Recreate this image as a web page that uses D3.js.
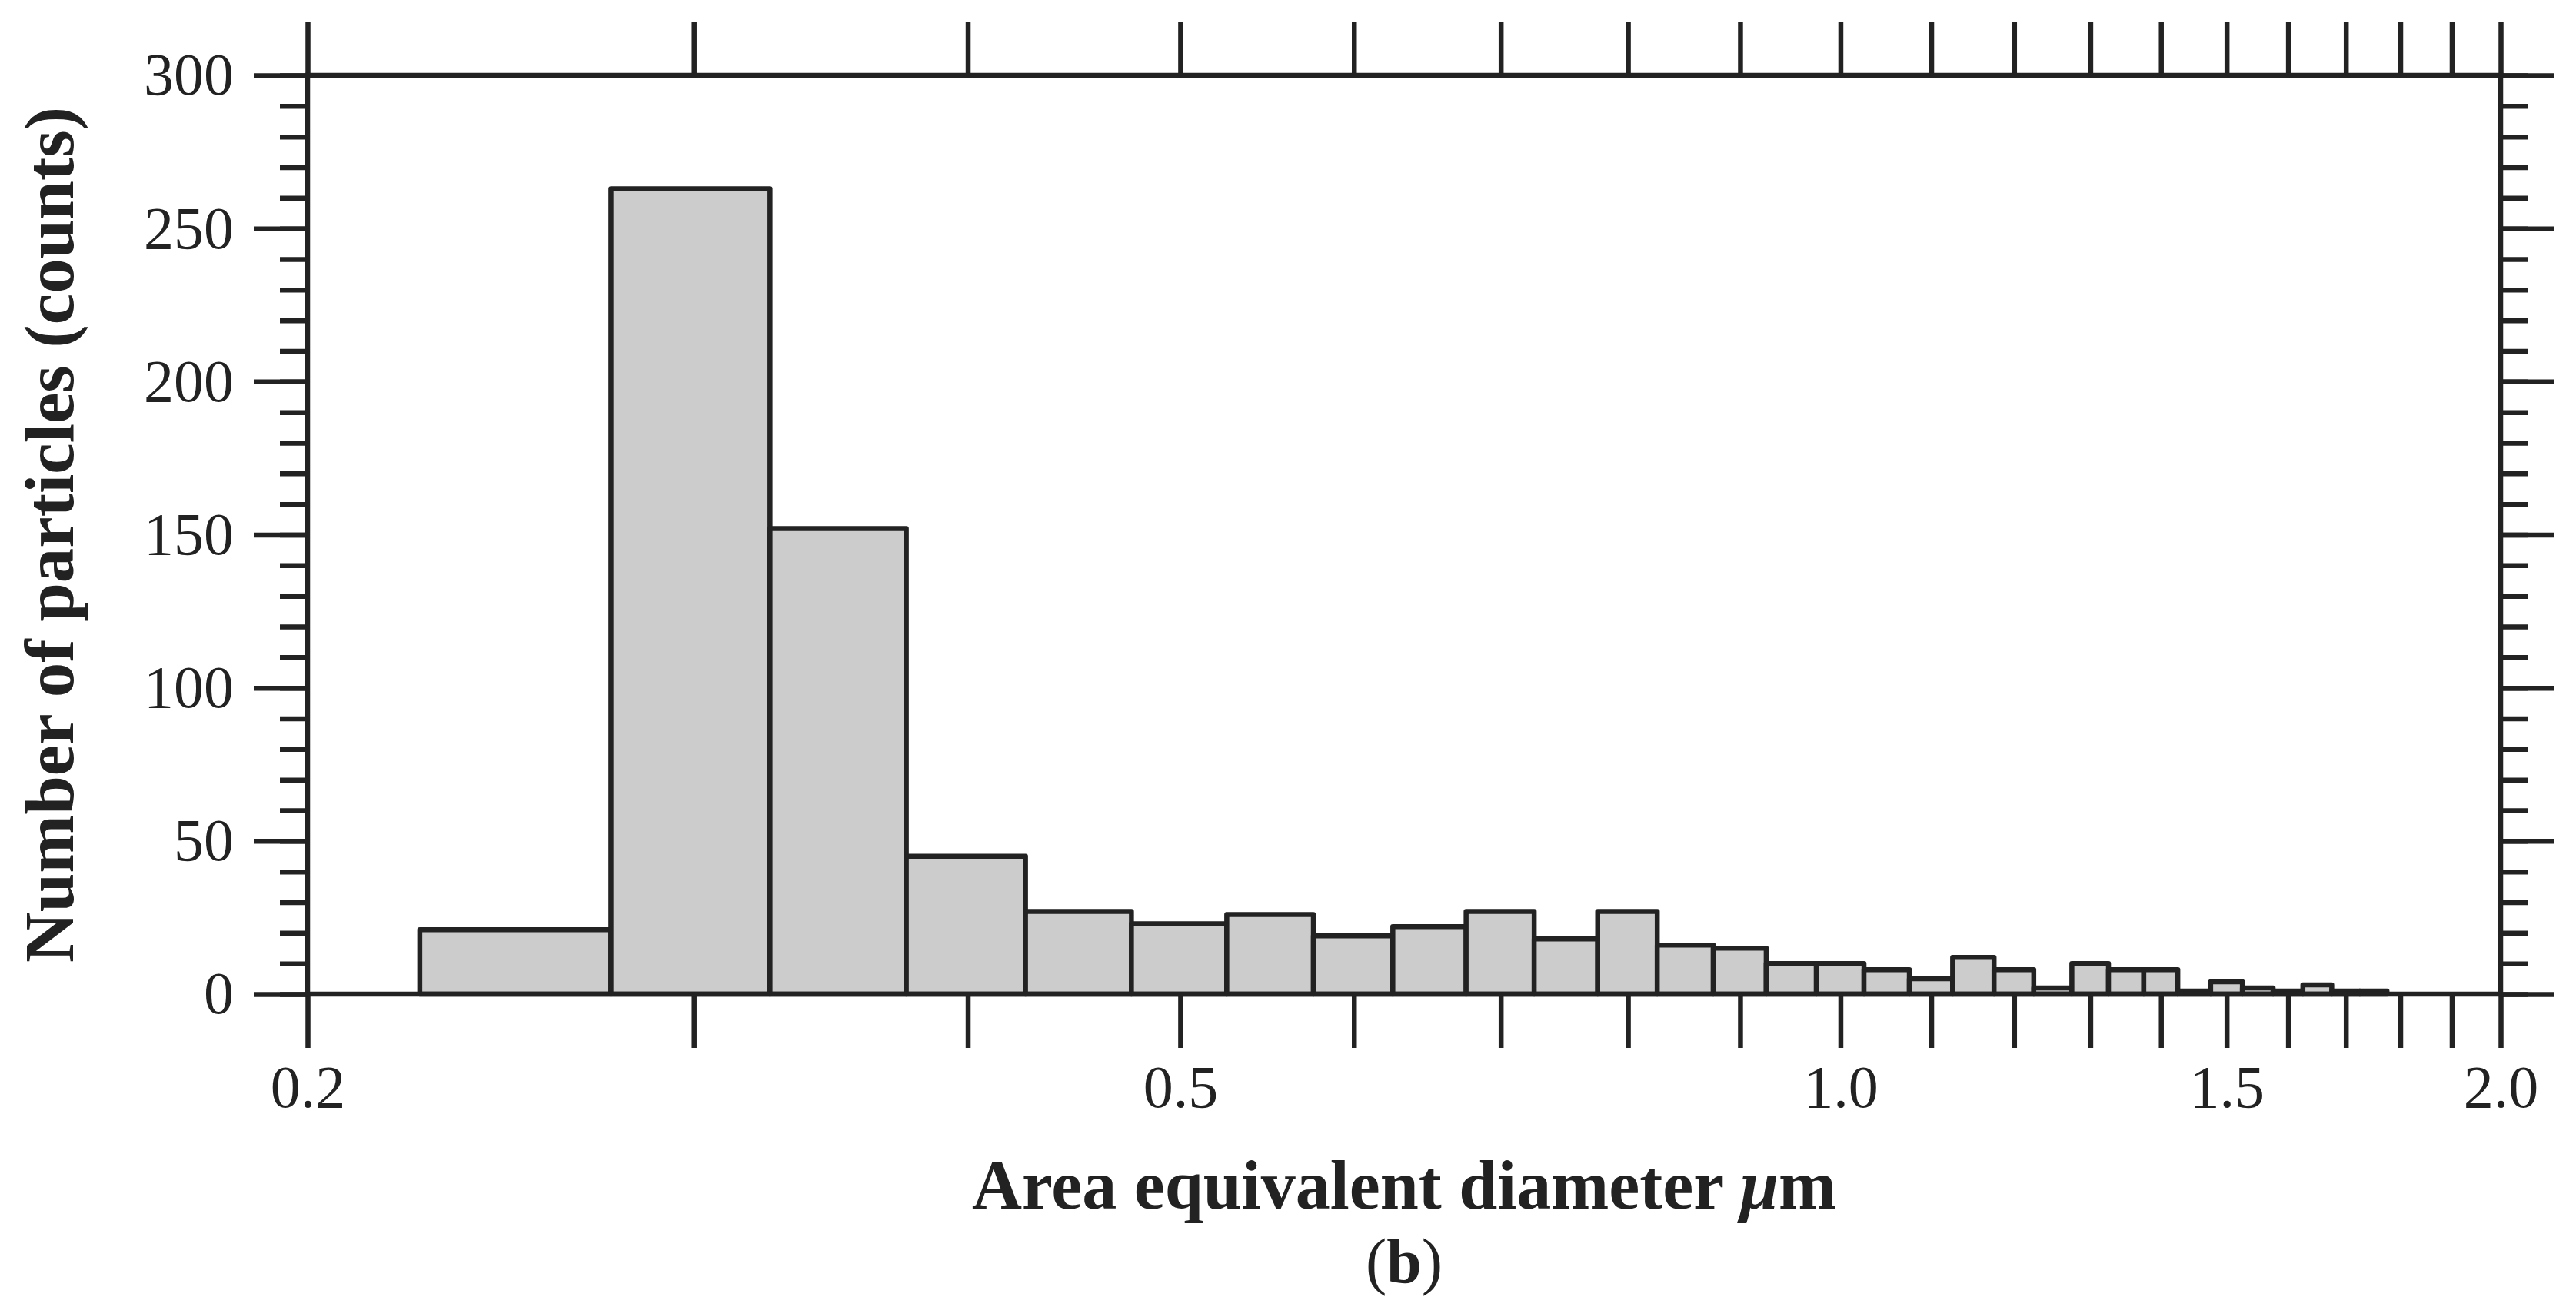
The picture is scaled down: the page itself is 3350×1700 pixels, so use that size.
<!DOCTYPE html>
<html><head><meta charset="utf-8">
<script src="https://cdn.jsdelivr.net/npm/d3@7"></script>
<style>body{margin:0;background:#fff}</style></head>
<body><svg id="c" width="3350" height="1700"></svg>
<script>
const binEdges = [0.225,0.275,0.325,0.375,0.425,0.475,0.525,0.575,0.625,0.675,0.725,0.775,0.825,0.875,0.925,0.975,1.025,1.075,1.125,1.175,1.225,1.275,1.325,1.375,1.425,1.475,1.525,1.575,1.625,1.675,1.725,1.775];
const counts = [21,263,152,45,27,23,26,19,22,27,18,27,16,15,10,10,8,5,12,8,2,10,8,8,1,4,2,1,3,1,1];
const xTicks = [0.2,0.3,0.4,0.5,0.6,0.7,0.8,0.9,1.0,1.1,1.2,1.3,1.4,1.5,1.6,1.7,1.8,1.9,2.0];
const xLabels = [0.2,0.5,1.0,1.5,2.0];
const yMajor = [0,50,100,150,200,250,300];

const svg = d3.select("#c");
const L=400,R=3252,T=98,B=1293;
const x = d3.scaleLog().domain([0.2,2.0]).range([L,R]);
const y = d3.scaleLinear().domain([0,300]).range([B,T]);
const col="#222", lw=6.5, font="Liberation Serif";

const bins = counts.map((c,i)=>({x0:binEdges[i],x1:binEdges[i+1],c}));
svg.append("g").selectAll("rect").data(bins).join("rect")
  .attr("x",d=>x(d.x0)).attr("width",d=>x(d.x1)-x(d.x0))
  .attr("y",d=>y(d.c)).attr("height",d=>y(0)-y(d.c))
  .attr("fill","#cccccc").attr("stroke",col).attr("stroke-width",lw).attr("stroke-linejoin","round");

const yMinor = d3.range(0,301,10);
function styleAxis(g){g.selectAll("line").attr("stroke",col).attr("stroke-width",lw);
  g.selectAll("text").attr("font-family",font).attr("font-size",78).attr("fill",col);}
svg.append("g").attr("transform",`translate(0,${B})`)
  .call(d3.axisBottom(x).tickValues(xTicks).tickSize(70).tickSizeOuter(0).tickPadding(22)
    .tickFormat(d=>xLabels.includes(d)?d3.format(".1f")(d):""))
  .call(styleAxis).call(g=>g.select(".domain").remove());
svg.append("g").attr("transform",`translate(0,${T})`)
  .call(d3.axisTop(x).tickValues(xTicks).tickSize(70).tickSizeOuter(0).tickFormat(""))
  .call(styleAxis).call(g=>g.select(".domain").remove());
svg.append("g").attr("transform",`translate(${L},0)`)
  .call(d3.axisLeft(y).tickValues(yMinor).tickSize(36).tickSizeOuter(0).tickFormat(""))
  .call(styleAxis).call(g=>g.select(".domain").remove());
svg.append("g").attr("transform",`translate(${L},0)`)
  .call(d3.axisLeft(y).tickValues(yMajor).tickSize(70).tickSizeOuter(0).tickPadding(26))
  .call(styleAxis).call(g=>g.select(".domain").remove());
svg.append("g").attr("transform",`translate(${R},0)`)
  .call(d3.axisRight(y).tickValues(yMinor).tickSize(36).tickSizeOuter(0).tickFormat(""))
  .call(styleAxis).call(g=>g.select(".domain").remove());
svg.append("g").attr("transform",`translate(${R},0)`)
  .call(d3.axisRight(y).tickValues(yMajor).tickSize(70).tickSizeOuter(0).tickFormat(""))
  .call(styleAxis).call(g=>g.select(".domain").remove());
svg.append("rect").attr("x",L).attr("y",T).attr("width",R-L).attr("height",B-T)
  .attr("fill","none").attr("stroke",col).attr("stroke-width",lw);

svg.append("text").attr("x",(L+R)/2).attr("y",1572).attr("text-anchor","middle")
  .attr("font-family",font).attr("font-size",90).attr("font-weight","bold").attr("fill",col)
  .text("Area equivalent diameter ").append("tspan").attr("font-style","italic").text("μ")
  .select(function(){return this.parentNode;}).append("tspan").text("m");
svg.append("text").attr("x",(L+R)/2).attr("y",1668).attr("text-anchor","middle")
  .attr("font-family",font).attr("font-size",82).attr("fill",col)
  .text("(").append("tspan").attr("font-weight","bold").text("b")
  .select(function(){return this.parentNode;}).append("tspan").text(")");
svg.append("text").attr("transform",`translate(95,${(T+B)/2}) rotate(-90)`).attr("text-anchor","middle")
  .attr("font-family",font).attr("font-size",91).attr("font-weight","bold").attr("fill",col)
  .text("Number of particles (counts)");
</script></body></html>
